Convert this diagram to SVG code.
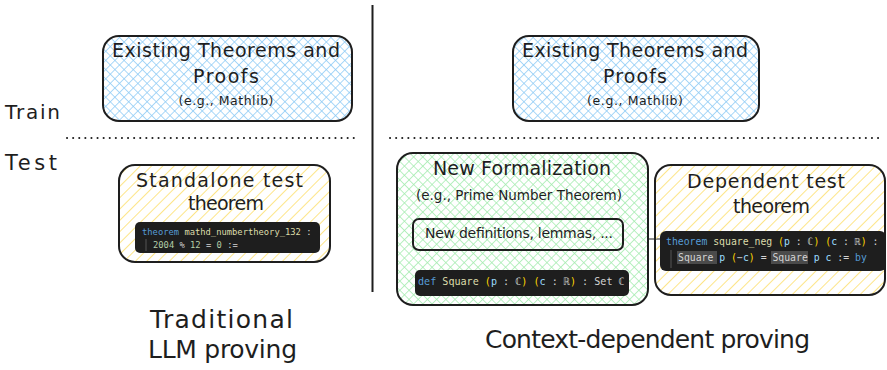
<svg xmlns="http://www.w3.org/2000/svg" width="887" height="370" viewBox="0 0 887 370">
<defs>
<pattern id="hBlue" patternUnits="userSpaceOnUse" width="6.5" height="6.5" patternTransform="rotate(45)">
<line x1="0" y1="0" x2="0" y2="6.5" stroke="#8ecbf5" stroke-width="1.5"/>
<line x1="0" y1="0" x2="6.5" y2="0" stroke="#8ecbf5" stroke-width="1.5"/>
</pattern>
<pattern id="hGreen" patternUnits="userSpaceOnUse" width="6.5" height="6.5" patternTransform="rotate(45)">
<line x1="0" y1="0" x2="0" y2="6.5" stroke="#a3ecae" stroke-width="1.5"/>
<line x1="0" y1="0" x2="6.5" y2="0" stroke="#a3ecae" stroke-width="1.5"/>
</pattern>
<pattern id="hYellow" patternUnits="userSpaceOnUse" width="8" height="8" patternTransform="rotate(45)">
<line x1="0" y1="0" x2="0" y2="8" stroke="#fde27a" stroke-width="1.8"/>
</pattern>
<style>
.box{stroke:#1e1e1e;stroke-width:2}
.hand{font-family:"DejaVu Sans","Liberation Sans",sans-serif;fill:#1e1e1e}
.code{font-family:"DejaVu Sans Mono","Liberation Mono",monospace;fill:#d4d4d4}
.cb{fill:#1e1e1e}
.kw{fill:#569cd6}
.fn{fill:#dcdcaa}
.num{fill:#b5cea8}
.par{fill:#ffd700}
.var{fill:#9cdcfe}
.dots{stroke:#1e1e1e;stroke-width:2;stroke-dasharray:0.1 6;stroke-linecap:round;fill:none}
</style>
</defs>
<rect width="887" height="370" fill="#ffffff"/>

<g id="divider">
<line x1="372.5" y1="5" x2="372.5" y2="292" stroke="#1e1e1e" stroke-width="2"/>
</g>
<g id="split-lines">
<line class="dots" x1="67" y1="138" x2="358" y2="138"/>
<line class="dots" x1="390" y1="138" x2="880" y2="138"/>
</g>
<g id="phase-labels">
<text class="hand" x="5" y="119" font-size="20" textLength="55">Train</text>
<text class="hand" x="5" y="170" font-size="21" textLength="52">Test</text>
</g>

<g id="existing-left">
<rect class="box" x="103" y="36" width="249" height="85" rx="16" fill="url(#hBlue)"/>
<text class="hand" x="226" y="57" font-size="19" text-anchor="middle" textLength="228">Existing Theorems and</text>
<text class="hand" x="226" y="83" font-size="19" text-anchor="middle" textLength="66">Proofs</text>
<text class="hand" x="226" y="105" font-size="12.5" text-anchor="middle" textLength="95">(e.g., Mathlib)</text>
</g>

<g id="existing-right">
<rect class="box" x="513" y="36" width="246" height="85" rx="16" fill="url(#hBlue)"/>
<text class="hand" x="635" y="57" font-size="19" text-anchor="middle" textLength="226">Existing Theorems and</text>
<text class="hand" x="635" y="83" font-size="19" text-anchor="middle" textLength="64">Proofs</text>
<text class="hand" x="635" y="105" font-size="12.5" text-anchor="middle" textLength="96">(e.g., Mathlib)</text>
</g>

<g id="standalone">
<rect class="box" x="119" y="165" width="211" height="97" rx="16" fill="url(#hYellow)"/>
<text class="hand" x="219.5" y="187" font-size="19" text-anchor="middle" textLength="167">Standalone test</text>
<text class="hand" x="226" y="210" font-size="19" text-anchor="middle" textLength="76">theorem</text>
<rect class="cb" x="135" y="222" width="185" height="31" rx="5"/>
<line x1="146" y1="239" x2="146" y2="251" stroke="#555" stroke-width="1"/>
<text class="code" x="142" y="234.5" font-size="8.8"><tspan class="kw">theorem</tspan> <tspan class="fn">mathd_numbertheory_132</tspan> :</text>
<text class="code" x="153" y="247.5" font-size="8.8"><tspan class="num">2004</tspan> % <tspan class="num">12</tspan> = <tspan class="num">0</tspan> :=</text>
</g>

<g id="new-formalization">
<rect class="box" x="397" y="153" width="251" height="152" rx="16" fill="url(#hGreen)"/>
<text class="hand" x="522" y="175" font-size="19" text-anchor="middle" textLength="178">New Formalization</text>
<text class="hand" x="519" y="200" font-size="13.5" text-anchor="middle" textLength="206">(e.g., Prime Number Theorem)</text>
<g id="new-definitions">
<rect x="413" y="219" width="210" height="31" rx="6" fill="none" stroke="#1e1e1e" stroke-width="2"/>
<text class="hand" x="519" y="238" font-size="14" text-anchor="middle" textLength="188">New definitions, lemmas, ...</text>
</g>
<rect class="cb" x="415" y="270" width="214" height="26" rx="5"/>
<text class="code" x="418" y="284.5" font-size="10.1"><tspan class="kw">def</tspan> <tspan class="fn">Square</tspan> <tspan class="par">(</tspan><tspan class="var">p</tspan> : ℂ<tspan class="par">)</tspan> <tspan class="par">(</tspan><tspan class="var">c</tspan> : ℝ<tspan class="par">)</tspan> : Set ℂ</text>
</g>

<g id="connectors">
<line x1="648" y1="239" x2="662" y2="239" stroke="#1e1e1e" stroke-width="1"/>
</g>

<g id="dependent">
<rect class="box" x="655" y="165" width="230" height="130" rx="16" fill="url(#hYellow)"/>
<text class="hand" x="766" y="188" font-size="19" text-anchor="middle" textLength="158">Dependent test</text>
<text class="hand" x="771.5" y="213" font-size="19" text-anchor="middle" textLength="77">theorem</text>
<rect class="cb" x="660" y="231" width="226" height="40" rx="6"/>
<line x1="671" y1="250" x2="671" y2="268" stroke="#555" stroke-width="1"/>
<rect x="677" y="251" width="40" height="13" fill="#4b4b4b"/>
<rect x="771" y="251" width="37" height="13" fill="#4b4b4b"/>
<text class="code" x="666" y="245" font-size="9.8"><tspan class="kw">theorem</tspan> <tspan class="fn">square_neg</tspan> <tspan class="par">(</tspan><tspan class="var">p</tspan> : ℂ<tspan class="par">)</tspan> <tspan class="par">(</tspan><tspan class="var">c</tspan> : ℝ<tspan class="par">)</tspan> :</text>
<text class="code" x="678" y="261" font-size="9.8">Square <tspan class="var">p</tspan> <tspan class="par">(</tspan>−<tspan class="var">c</tspan><tspan class="par">)</tspan> = Square <tspan class="var">p</tspan> <tspan class="var">c</tspan> := <tspan class="kw">by</tspan></text>
</g>

<g id="captions">
<text class="hand" x="221.5" y="328" font-size="25" text-anchor="middle" textLength="143">Traditional</text>
<text class="hand" x="222.5" y="358" font-size="25" text-anchor="middle" textLength="149">LLM proving</text>
<text class="hand" x="647.5" y="348" font-size="25" text-anchor="middle" textLength="325">Context-dependent proving</text>
</g>
</svg>
